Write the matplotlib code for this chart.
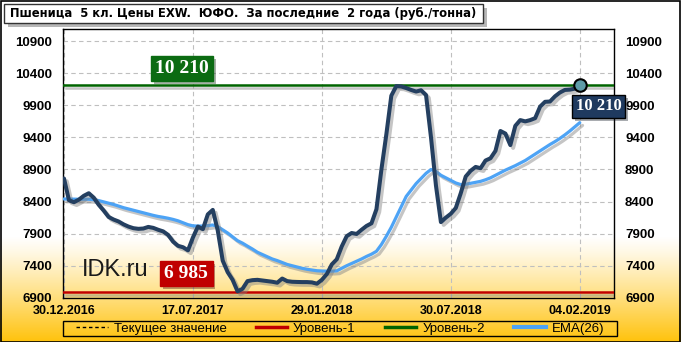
import matplotlib
matplotlib.use('Agg')
import matplotlib.pyplot as plt
import numpy as np
from matplotlib import patheffects as pe
from matplotlib import font_manager as fm
from matplotlib.patches import Rectangle
from matplotlib.lines import Line2D

# ---------------- data ----------------
title = "Пшеница  5 кл. Цены EXW.  ЮФО.  За последние  2 года (руб./тонна)"
date_labels = ["30.12.2016", "17.07.2017", "29.01.2018", "30.07.2018", "04.02.2019"]
date_positions = [0, 26, 52, 78, 104]
price = [8760, 8420, 8390, 8430, 8490, 8530, 8460, 8350, 8260, 8160,
         8120, 8090, 8045, 8010, 7985, 7975, 7980, 8005, 7990, 7960,
         7935, 7880, 7775, 7710, 7688, 7640, 7840, 8010, 7970, 8200,
         8270, 7950, 7480, 7300, 7180, 7000, 7040, 7160, 7175, 7180,
         7170, 7160, 7150, 7135, 7200, 7160, 7150, 7147, 7145, 7145,
         7140, 7120, 7180, 7270, 7420, 7500, 7700, 7860, 7910, 7895,
         7960, 8020, 8061, 8280, 8900, 9450, 10050, 10200, 10195, 10170,
         10140, 10115, 10135, 10060, 9400, 8650, 8080, 8150, 8210, 8300,
         8530, 8790, 8880, 8940, 8920, 9040, 9075, 9190, 9500, 9460,
         9280, 9580, 9670, 9650, 9670, 9700, 9880, 9955, 9960, 10040,
         10100, 10140, 10145, 10160, 10210]
ema26 = [8440, 8440, 8438, 8436, 8436, 8436, 8430, 8415, 8395, 8375,
         8355, 8330, 8305, 8285, 8265, 8245, 8225, 8205, 8185, 8168,
         8155, 8140, 8122, 8100, 8070, 8040, 8022, 8018, 8019, 8025,
         8035, 8010, 7960, 7910, 7850, 7790, 7752, 7705, 7660, 7610,
         7575, 7540, 7505, 7480, 7450, 7420, 7400, 7380, 7360, 7345,
         7333, 7322, 7318, 7315, 7315, 7320, 7360, 7400, 7435, 7470,
         7505, 7545, 7580, 7625, 7730, 7860, 8000, 8160, 8320, 8480,
         8580, 8680, 8760, 8840, 8900, 8870, 8810, 8770, 8730, 8690,
         8665, 8670, 8685, 8700, 8715, 8740, 8770, 8810, 8850, 8890,
         8925, 8960, 9000, 9040, 9090, 9140, 9190, 9240, 9290, 9335,
         9385, 9440, 9500, 9565, 9630]
level1 = 6985
level2 = 10210
yticks = [6900, 7400, 7900, 8400, 8900, 9400, 9900, 10400, 10900]
legend_labels = ["Текущее значение", "Уровень-1", "Уровень-2", "EMA(26)"]
watermark = "IDK.ru"

# ---------------- styling ----------------
W, H = 681, 342
plt.rcParams['font.family'] = ['Liberation Sans', 'DejaVu Sans']
SERIF = ['Liberation Serif', 'DejaVu Serif']


def find_narrow_bold():
    prefs = ['LiberationSansNarrow-Bold', 'DejaVuSansCondensed-Bold']
    files = [f.fname for f in fm.fontManager.ttflist]
    for p in prefs:
        for fn in files:
            if p.lower() in fn.lower().replace(' ', ''):
                return fm.FontProperties(fname=fn)
    return fm.FontProperties(family=['Liberation Sans', 'DejaVu Sans'], weight='bold')


def fmt(v):
    return f"{v:,}".replace(",", " ")


fig = plt.figure(figsize=(W / 100, H / 100), dpi=100)

# background gradient (white top -> gold bottom)
bg = fig.add_axes([0, 0, 1, 1], zorder=-10)
rows = np.arange(H)
t = np.clip((rows - 236) / (H - 236), 0, 1) ** 1.15
white = np.array([1.0, 1.0, 1.0])
gold = np.array([1.0, 0.76, 0.04])
grad = white[None, :] * (1 - t[:, None]) + gold[None, :] * t[:, None]
bg.imshow(grad[:, None, :], aspect='auto', extent=[0, 1, 0, 1])
bg.set_axis_off()
fig.patches.append(Rectangle((0.5 / W, 0.5 / H), 1 - 1.5 / W, 1 - 1.5 / H,
                             transform=fig.transFigure, fill=False,
                             edgecolor='black', linewidth=1.2))

# main axes
ax = fig.add_axes([63 / W, (H - 297.8) / H, (614 - 63) / W, (297.8 - 29) / H])
ax.patch.set_alpha(0)
x = np.arange(len(price))

shadow = [pe.SimpleLineShadow(offset=(2, -2), shadow_color='#808080', alpha=0.45), pe.Normal()]

ax.axhline(level1, color='#C00000', lw=1.8, zorder=3, path_effects=shadow)
ax.axhline(level2, color='#006400', lw=1.8, zorder=3, path_effects=shadow)
ax.plot(x, ema26, color='#4DA3F5', lw=2.3, zorder=4, path_effects=shadow,
        solid_capstyle='round', solid_joinstyle='round')
ax.plot(x, price, color='#243F60', lw=2.9, zorder=5, path_effects=shadow,
        solid_capstyle='round', solid_joinstyle='round')
ax.plot(x[-1], price[-1], 'o', ms=9, mfc='#5E9CA8', mec='black', mew=1.5, zorder=6)

ax.set_xlim(-0.2, 110.9)
ax.set_ylim(6900, 11090)
ax.set_yticks(yticks)
ax.set_xticks(date_positions, date_labels)
ax.grid(True, color='#BFBFBF', linestyle=(0, (4, 3)), linewidth=0.8)
ax.set_axisbelow(True)
for s in ax.spines.values():
    s.set_color('black')
    s.set_linewidth(1.0)
ax.tick_params(axis='y', length=0, labelsize=9.5, pad=8, labelright=True)
ax.tick_params(axis='x', length=0, labelsize=9, pad=5.5)
for tk in ax.yaxis.get_major_ticks():
    tk.label1.set_fontweight('bold')
    tk.label2.set_fontweight('bold')
for tk in ax.xaxis.get_major_ticks():
    tk.label1.set_fontweight('bold')


# value boxes
def box(xf, yf, txt, fc, size, ec):
    tt = ax.text(xf, yf, txt, transform=ax.transAxes, ha='center', va='center',
                 color='white', fontsize=size, fontweight='bold', family=SERIF,
                 zorder=8, clip_on=False,
                 bbox=dict(boxstyle='square,pad=0.22', fc=fc, ec=ec, lw=1.0))
    tt.get_bbox_patch().set_path_effects([pe.withSimplePatchShadow(offset=(2, -2), alpha=0.35)])
    return tt


box(0.216, 0.853, fmt(level2), '#0B6B12', 14, '#0B6B12')
box(0.972, 0.712, fmt(price[-1]), '#1F3A5F', 12, 'black')
box(0.224, 0.090, fmt(level1), '#C00000', 14, '#C00000')

ax.text(0.0345, 0.081, watermark, transform=ax.transAxes, ha='left', va='baseline',
        fontsize=17, color='#1A1A1A', zorder=7)

# title box
fig.patches.append(Rectangle((4 / W, 1 - 23 / H), (483 - 4) / W, 19 / H,
                             transform=fig.transFigure, facecolor='white',
                             edgecolor='#333333', linewidth=1.0,
                             path_effects=[pe.withSimplePatchShadow(offset=(3, -3), alpha=0.4)]))
tprop = find_narrow_bold()
tprop.set_size(11)
ttl = fig.text(10 / W, 1 - 13.5 / H, title, ha='left', va='center', fontproperties=tprop)
renderer = fig.canvas.get_renderer()
wpx = ttl.get_window_extent(renderer).width
target = 463.0
if wpx > 0:
    newsize = 11 * target / wpx
    tprop.set_size(min(newsize, 12.5))
    ttl.set_fontproperties(tprop)

# legend (frame drawn separately to span the plot width)
fig.patches.append(Rectangle((63 / W, (H - 336) / H), (617 - 63) / W, 15 / H,
                             transform=fig.transFigure, fill=False,
                             edgecolor='black', linewidth=1.0))
handles = [Line2D([], [], color='black', lw=1.0, ls=(0, (2.5, 2))),
           Line2D([], [], color='#C00000', lw=2.5),
           Line2D([], [], color='#006400', lw=2.5),
           Line2D([], [], color='#4DA3F5', lw=3)]
leg = fig.legend(handles, legend_labels, loc='center', ncol=4,
                 bbox_to_anchor=((63 + 617) / 2 / W, (H - 328.5) / H),
                 bbox_transform=fig.transFigure, frameon=False,
                 prop={'family': ['Liberation Sans', 'DejaVu Sans'], 'size': 9.5, 'weight': 'normal'},
                 handlelength=2.4, handletextpad=0.45, columnspacing=2.2,
                 borderpad=0.0, borderaxespad=0)

fig.savefig('out.png', dpi=100)
